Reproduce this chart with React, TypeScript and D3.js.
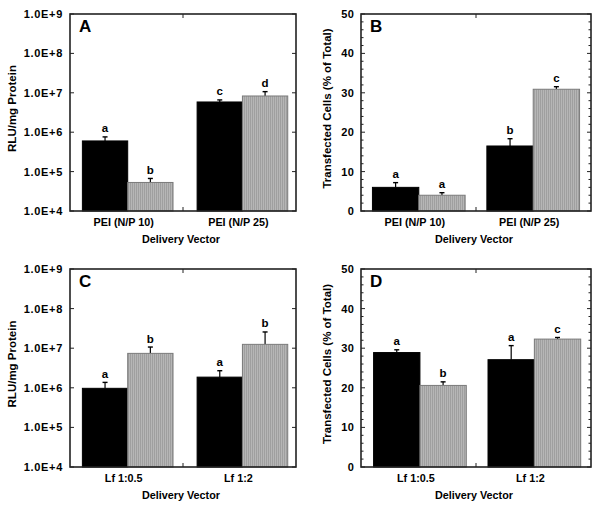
import React from "react";
import * as d3 from "d3";

// ---- data ----
const catsPEI = ["PEI (N/P 10)", "PEI (N/P 25)"];
const catsLf = ["Lf 1:0.5", "Lf 1:2"];

const aBlack = [6.0e5, 5.85e6];
const aBlackErr = [1.6e5, 0.75e6];
const aGray = [5.3e4, 8.3e6];
const aGrayErr = [1.4e4, 2.4e6];
const aBlackLetters = ["a", "c"];
const aGrayLetters = ["b", "d"];

const bBlack = [6.0, 16.5];
const bBlackErr = [1.2, 1.85];
const bGray = [4.0, 30.9];
const bGrayErr = [0.65, 0.65];
const bBlackLetters = ["a", "b"];
const bGrayLetters = ["a", "c"];

const cBlack = [9.7e5, 1.86e6];
const cBlackErr = [4.0e5, 0.84e6];
const cGray = [7.4e6, 1.25e7];
const cGrayErr = [3.3e6, 1.32e7];
const cBlackLetters = ["a", "a"];
const cGrayLetters = ["b", "b"];

const dBlack = [28.9, 27.1];
const dBlackErr = [0.7, 3.55];
const dGray = [20.6, 32.3];
const dGrayErr = [0.9, 0.4];
const dBlackLetters = ["a", "a"];
const dGrayLetters = ["b", "c"];

const logTickValues = [1e4, 1e5, 1e6, 1e7, 1e8, 1e9];
const logTickLabels = ["1.0E+4", "1.0E+5", "1.0E+6", "1.0E+7", "1.0E+8", "1.0E+9"];
const linTickValues = [0, 10, 20, 30, 40, 50];
const linTickLabels = ["0", "10", "20", "30", "40", "50"];

const FONT = "'Liberation Sans', Arial, Helvetica, sans-serif";

type PanelProps = {
  letter: string;
  left: number;
  right: number;
  top: number;
  bottom: number;
  log: boolean;
  cats: string[];
  black: number[];
  blackErr: number[];
  gray: number[];
  grayErr: number[];
  blackLetters: string[];
  grayLetters: string[];
  yTitle: string;
  titleX: number;
  pi: number;
  po: number;
  align: number;
};

function Panel(p: PanelProps) {
  const y: any = p.log
    ? d3.scaleLog().domain([1e4, 1e9]).range([p.bottom, p.top])
    : d3.scaleLinear().domain([0, 50]).range([p.bottom, p.top]);
  const x = d3
    .scaleBand<string>()
    .domain(p.cats)
    .range([p.left, p.right])
    .paddingInner(p.pi)
    .paddingOuter(p.po)
    .align(p.align);
  const bw = x.bandwidth() / 2;
  const tickVals = p.log ? logTickValues : linTickValues;
  const tickLabs = p.log ? logTickLabels : linTickLabels;
  const minor = p.log ? [] : d3.range(0, 51, 2).filter((v) => v % 10 !== 0);
  const base = p.log ? 1e4 : 0;
  const midX = (p.left + p.right) / 2;
  const plotMidY = (p.top + p.bottom) / 2;

  const bars: any[] = [];
  p.cats.forEach((c, i) => {
    const x0 = x(c)!;
    const series = [
      { v: p.black[i], e: p.blackErr[i], l: p.blackLetters[i], xs: x0, gray: false },
      { v: p.gray[i], e: p.grayErr[i], l: p.grayLetters[i], xs: x0 + bw, gray: true },
    ];
    series.forEach((s, j) => {
      const yt = y(s.v);
      const ye = y(s.v + s.e);
      const cx = s.xs + bw / 2;
      bars.push(
        <g key={c + j}>
          <line x1={cx} x2={cx} y1={yt} y2={ye} stroke="#000" strokeWidth={1.2} />
          <line x1={cx - 2.5} x2={cx + 2.5} y1={ye} y2={ye} stroke="#000" strokeWidth={1.4} />
          <rect
            x={s.xs}
            y={yt}
            width={bw}
            height={y(base) - yt}
            fill={s.gray ? "url(#hatch)" : "#000"}
            stroke={s.gray ? "#7a7a7a" : "#000"}
            strokeWidth={1}
          />
          <text
            x={cx}
            y={ye - 4.5}
            textAnchor="middle"
            fontSize={11.5}
            fontWeight="bold"
            fontFamily={FONT}
          >
            {s.l}
          </text>
        </g>
      );
    });
  });

  return (
    <g>
      {bars}
      {tickVals.map((v, i) => (
        <g key={"t" + i}>
          <line x1={p.left} x2={p.left + 4} y1={y(v)} y2={y(v)} stroke="#222" strokeWidth={1} />
          <line x1={p.right} x2={p.right - 4} y1={y(v)} y2={y(v)} stroke="#222" strokeWidth={1} />
          <text
            x={p.left - 7}
            y={y(v)}
            dy="0.36em"
            textAnchor="end"
            fontSize={11}
            fontWeight="bold"
            fontFamily={FONT}
            letterSpacing={p.log ? 0.7 : 0.2}
          >
            {tickLabs[i]}
          </text>
        </g>
      ))}
      {minor.map((v) => (
        <g key={"m" + v}>
          <line x1={p.left} x2={p.left + 2.5} y1={y(v)} y2={y(v)} stroke="#222" strokeWidth={1} />
          <line x1={p.right} x2={p.right - 2.5} y1={y(v)} y2={y(v)} stroke="#222" strokeWidth={1} />
        </g>
      ))}
      <line x1={midX} x2={midX} y1={p.top} y2={p.top + 4} stroke="#222" strokeWidth={1} />
      <line x1={midX} x2={midX} y1={p.bottom} y2={p.bottom - 4} stroke="#222" strokeWidth={1} />
      <rect
        x={p.left}
        y={p.top}
        width={p.right - p.left}
        height={p.bottom - p.top}
        fill="none"
        stroke="#222"
        strokeWidth={1.6}
      />
      <text x={p.left + 9} y={p.top + 18} fontSize={17} fontWeight="bold" fontFamily={FONT}>
        {p.letter}
      </text>
      {p.cats.map((c) => (
        <text
          key={"c" + c}
          x={x(c)! + x.bandwidth() / 2 - 4}
          y={p.bottom + 15}
          textAnchor="middle"
          fontSize={10.8}
          fontWeight="bold"
          fontFamily={FONT}
        >
          {c}
        </text>
      ))}
      <text
        x={midX - 2}
        y={p.bottom + 32}
        textAnchor="middle"
        fontSize={10.8}
        fontWeight="bold"
        fontFamily={FONT}
      >
        Delivery Vector
      </text>
      <text
        transform={`translate(${p.titleX},${plotMidY - 4}) rotate(-90)`}
        textAnchor="middle"
        fontSize={11.5}
        fontWeight="bold"
        fontFamily={FONT}
      >
        {p.yTitle}
      </text>
    </g>
  );
}

export default function App() {
  return (
    <svg
      width={600}
      height={507}
      style={{ position: "absolute", left: 0, top: 0, background: "#fff" }}
    >
      <defs>
        <pattern id="hatch" width={2} height={4} patternUnits="userSpaceOnUse">
          <rect width={2} height={4} fill="#b6b6b6" />
          <rect width={0.8} height={4} fill="#9a9a9a" />
        </pattern>
      </defs>
      <rect width={600} height={507} fill="#fff" />
      <Panel
        letter="A"
        left={70}
        right={296}
        top={14}
        bottom={211}
        log={true}
        cats={catsPEI}
        black={aBlack}
        blackErr={aBlackErr}
        gray={aGray}
        grayErr={aGrayErr}
        blackLetters={aBlackLetters}
        grayLetters={aGrayLetters}
        yTitle="RLU/mg Protein"
        titleX={16}
        pi={0.21}
        po={0.09}
        align={0.6}
      />
      <Panel
        letter="B"
        left={361}
        right={591}
        top={14}
        bottom={211}
        log={false}
        cats={catsPEI}
        black={bBlack}
        blackErr={bBlackErr}
        gray={bGray}
        grayErr={bGrayErr}
        blackLetters={bBlackLetters}
        grayLetters={bGrayLetters}
        yTitle="Transfected Cells (% of Total)"
        titleX={331}
        pi={0.19}
        po={0.1}
        align={0.5}
      />
      <Panel
        letter="C"
        left={70}
        right={296}
        top={269}
        bottom={467}
        log={true}
        cats={catsLf}
        black={cBlack}
        blackErr={cBlackErr}
        gray={cGray}
        grayErr={cGrayErr}
        blackLetters={cBlackLetters}
        grayLetters={cGrayLetters}
        yTitle="RLU/mg Protein"
        titleX={16}
        pi={0.21}
        po={0.09}
        align={0.6}
      />
      <Panel
        letter="D"
        left={361}
        right={591}
        top={269}
        bottom={467}
        log={false}
        cats={catsLf}
        black={dBlack}
        blackErr={dBlackErr}
        gray={dGray}
        grayErr={dGrayErr}
        blackLetters={dBlackLetters}
        grayLetters={dGrayLetters}
        yTitle="Transfected Cells (% of Total)"
        titleX={331}
        pi={0.19}
        po={0.1}
        align={0.55}
      />
    </svg>
  );
}
